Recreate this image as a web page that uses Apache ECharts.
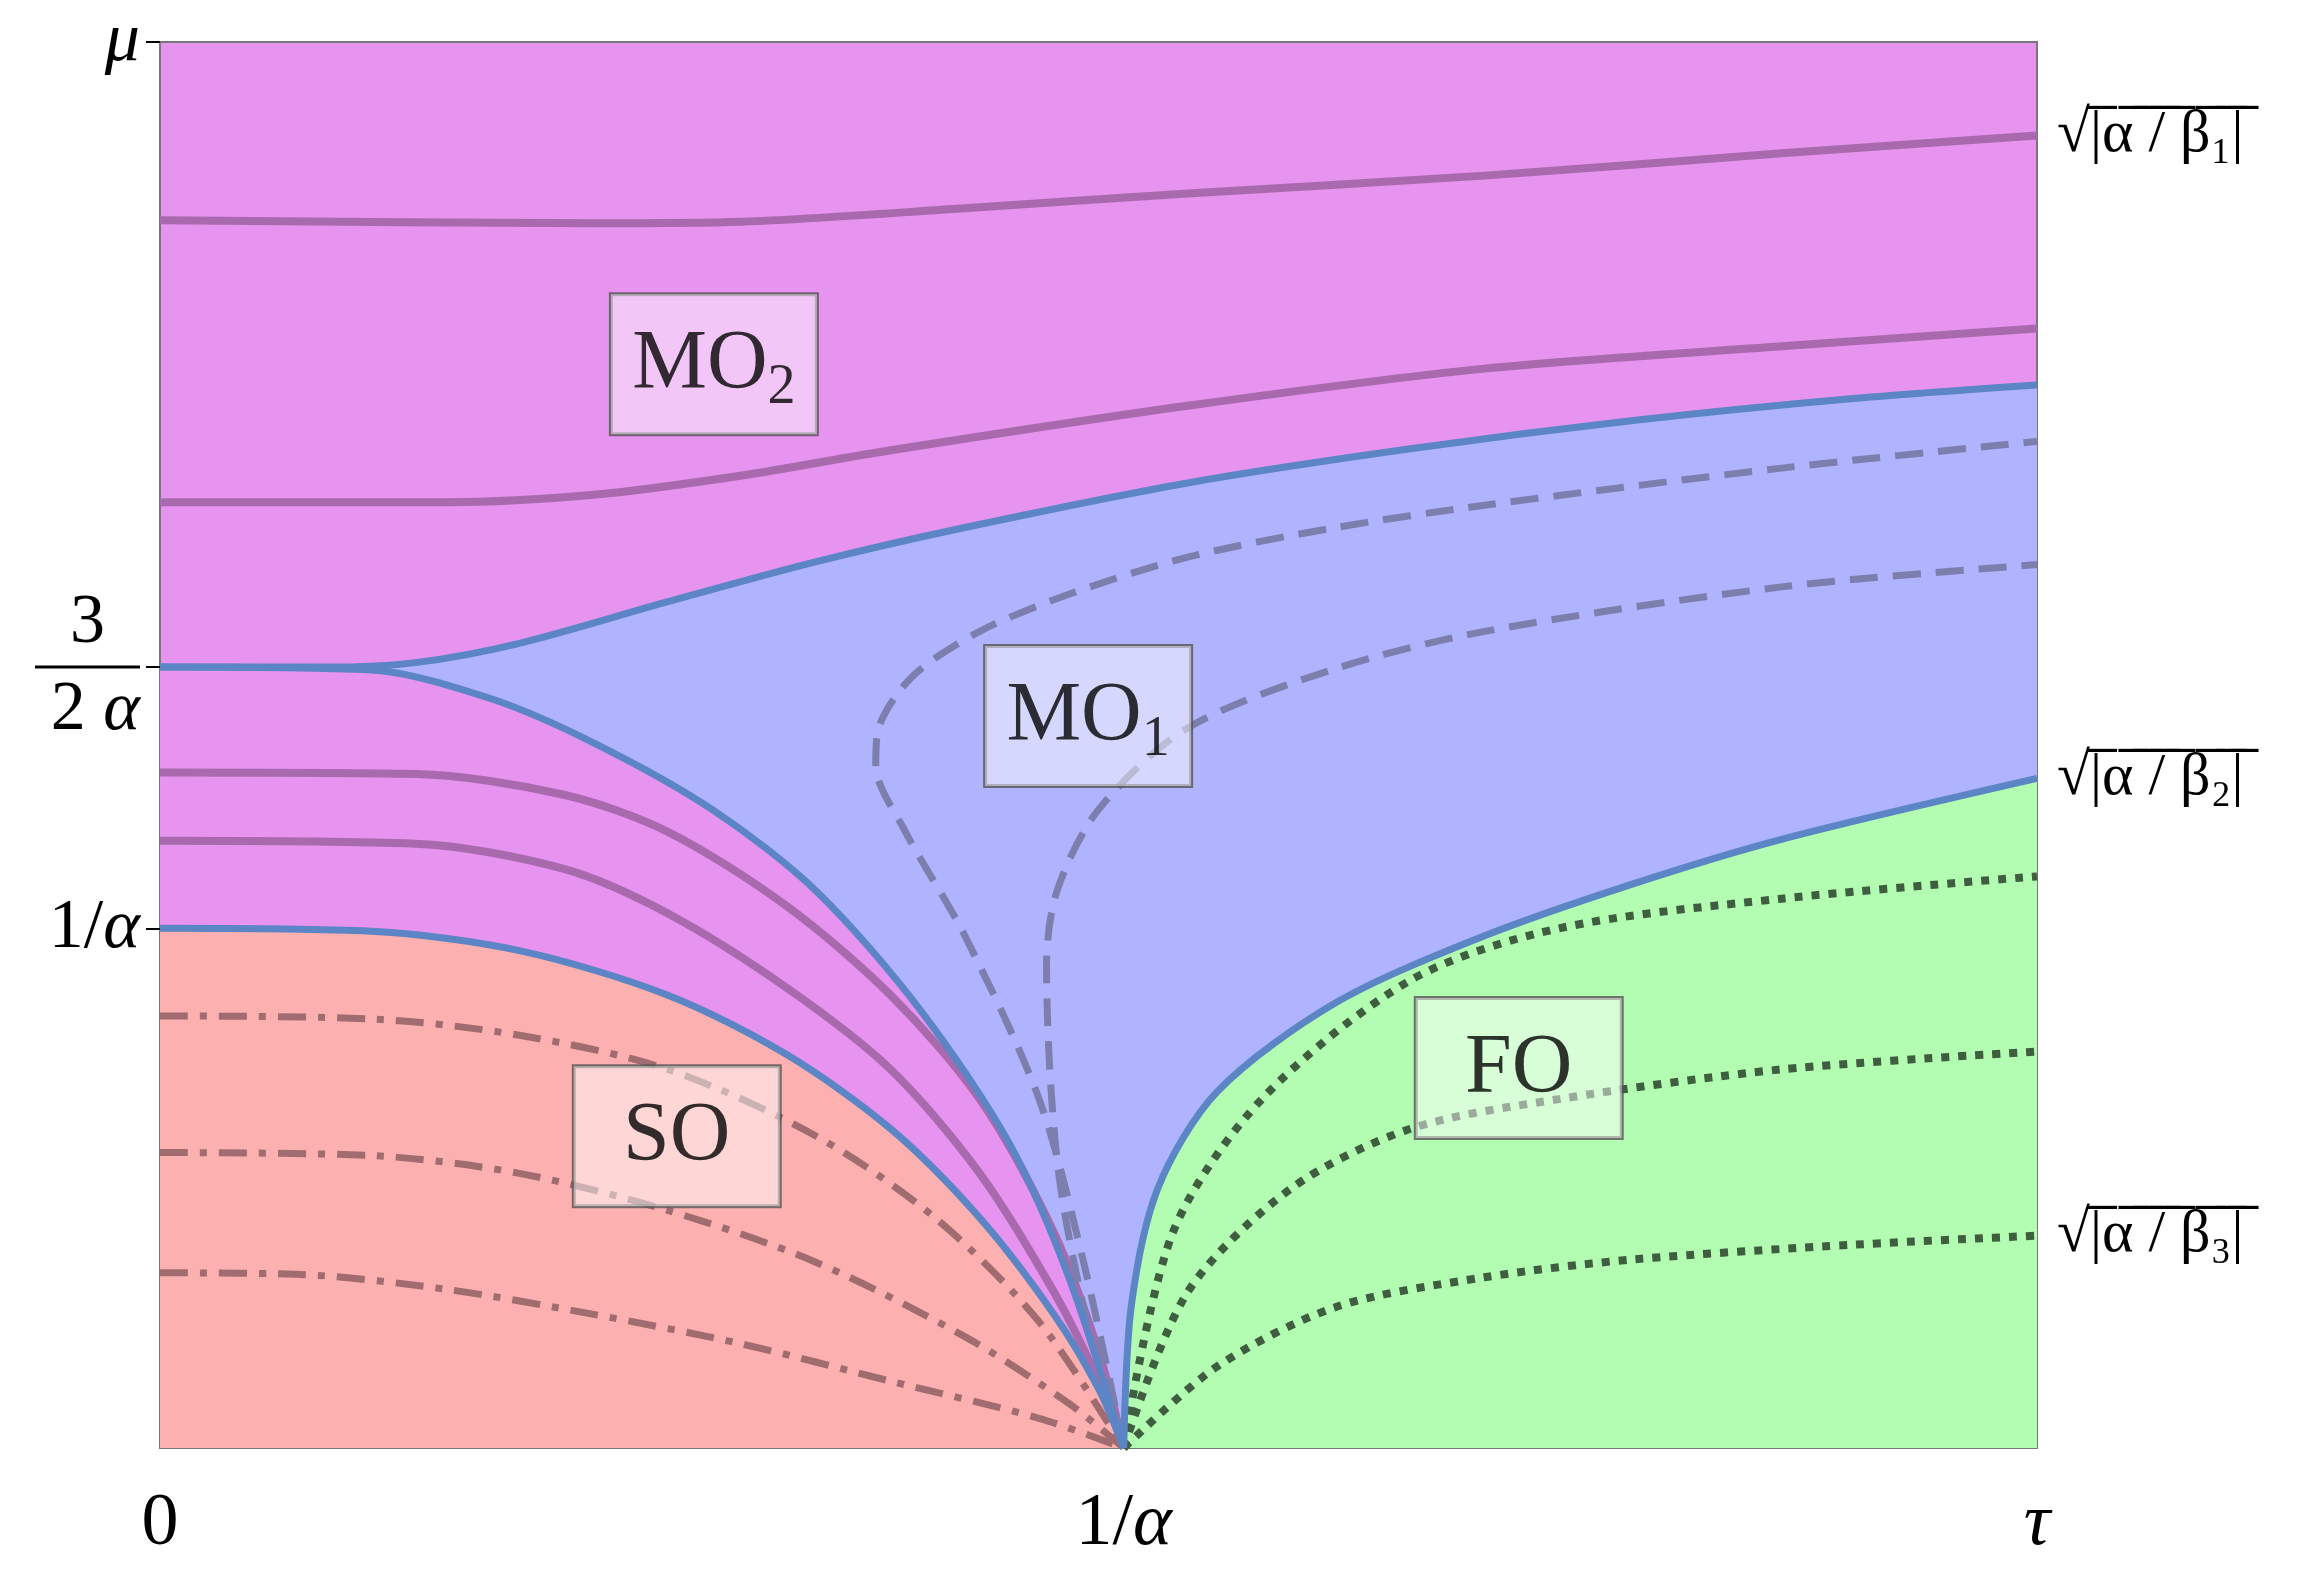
<!DOCTYPE html>
<html>
<head>
<meta charset="utf-8">
<script src="https://cdn.jsdelivr.net/npm/echarts@6/dist/echarts.min.js"></script>
<style>html,body{margin:0;background:#fff}#c{width:2316px;height:1570px}</style>
</head>
<body>
<div id="c"></div>
<script>
// axis units: x from 0 (108) to tau (1372), 1/alpha at 757; y runs downward from mu (28) to 0 (975)
const xTicks = [108, 757, 1372];
const xLabels = ['0', '1/{i|α}', '{i|τ}'];
const yLeftTicks = [28, 449, 625];
const yRightTicks = [91, 524, 832];

// phase boundaries
const upperMO1 = [[108,449],[220,449],[280,446],[350,433],[450,405],[550,378],[650,355],[800,325],[950,302],[1100,283],[1250,268],[1372,259]];
const lowerMO1 = [[108,449],[250,451],[330,470],[400,500],[480,545],[550,600],[620,680],[680,770],[720,860],[757,975]];
const soLine = [[108,625],[250,627],[350,640],[450,670],[530,710],[600,760],[660,820],[710,885],[740,935],[757,975]];
const foLine = [[757,975],[762,880],[780,800],[820,735],[900,675],[1000,630],[1100,595],[1200,565],[1372,524]];

// purple solid curves
const purpleA = [[108,148],[400,150],[500,149],[650,140],[800,130],[1000,118],[1200,103],[1372,91]];
const purpleB = [[108,338],[300,338],[400,333],[500,320],[600,303],[800,273],[1000,248],[1200,233],[1372,221]];
const purpleC = [[108,520],[280,521],[380,535],[450,560],[530,610],[600,670],[660,740],[710,830],[740,910],[757,975]];
const purpleD = [[108,566],[280,568],[380,585],[450,615],[530,665],[600,720],[660,790],[710,870],[740,930],[757,975]];

// dashed curves in MO1
const dashA = [[757,975],[730,850],[700,740],[650,630],[610,560],[590,515],[592,490],[615,455],[660,425],[720,400],[800,375],[900,355],[1000,340],[1200,315],[1372,297]];
const dashB = [[757,975],[730,880],[712,780],[705,650],[712,600],[740,545],[800,490],[900,450],[1000,425],[1200,395],[1372,380]];

// dash-dot curves in SO
const dotDashA = [[108,684],[250,686],[350,697],[450,720],[550,765],[630,820],[700,890],[757,975]];
const dotDashB = [[108,776],[250,778],[350,790],[450,815],[550,850],[650,900],[720,945],[757,975]];
const dotDashC = [[108,857],[200,858],[300,868],[400,885],[500,905],[600,930],[700,955],[757,975]];

// dotted curves in FO
const dotA = [[757,975],[790,830],[850,740],[950,660],[1050,625],[1200,605],[1372,590]];
const dotB = [[757,975],[800,870],[870,800],[950,760],[1050,740],[1200,720],[1372,708]];
const dotC = [[757,975],[820,920],[900,880],[1000,860],[1100,848],[1250,838],[1372,832]];

const regionLabels = [
  {name: 'MO2', value: [481,245], text: 'MO{s|2}'},
  {name: 'MO1', value: [733,482], text: 'MO{s|1}'},
  {name: 'SO', value: [456,765], text: 'SO'},
  {name: 'FO', value: [1023,719], text: 'FO'}
];

const serif = 'Liberation Serif';
const fill = (data, color, z) => ({type: 'line', data, symbol: 'none', smooth: 0.3, z,
  lineStyle: {width: 0}, areaStyle: {color, opacity: 1, origin: 'end'}, silent: true});
const curve = (data, color, width, type, z) => ({type: 'line', data, symbol: 'none', smooth: 0.3, z,
  lineStyle: {color, width, type, cap: 'butt'}, silent: true});

const chart = echarts.init(document.getElementById('c'));
chart.setOption({
  animation: false,
  grid: {left: 160, right: 279, top: 42, bottom: 122, show: true, backgroundColor: '#e694f0',
    borderColor: '#777', borderWidth: 2, z: 0},
  xAxis: {type: 'value', min: 108, max: 1372, splitLine: {show: false},
    axisLine: {show: false}, axisTick: {show: false},
    axisLabel: {customValues: xTicks, margin: 40, fontFamily: serif, fontSize: 74, color: '#000',
      formatter: v => xLabels[xTicks.indexOf(v)],
      rich: {i: {fontFamily: serif, fontSize: 74, fontStyle: 'italic', color: '#000'}}}},
  yAxis: [
    {type: 'value', min: 28, max: 975, inverse: true, splitLine: {show: false},
      axisLine: {show: false},
      axisTick: {show: true, customValues: yLeftTicks, inside: false, length: 14, lineStyle: {color: '#000', width: 2}},
      axisLabel: {customValues: yLeftTicks, margin: 20, fontFamily: serif, fontSize: 70, color: '#000',
        formatter: v => v === 28 ? '{i|μ}' : v === 449 ? '{n|3}\n{b| }\n{d|2 }{i|α}' : '1/{i|α}',
        rich: {i: {fontFamily: serif, fontSize: 70, fontStyle: 'italic', color: '#000'},
          n: {fontFamily: serif, fontSize: 70, align: 'center', width: 105, lineHeight: 84, color: '#000'},
          b: {fontSize: 1, height: 3, lineHeight: 3, width: 105, backgroundColor: '#000'},
          d: {fontFamily: serif, fontSize: 70, lineHeight: 84, color: '#000'}}}},
    {type: 'value', min: 28, max: 975, inverse: true, position: 'right', splitLine: {show: false},
      axisLine: {show: false},
      axisTick: {show: true, customValues: yRightTicks, inside: true, length: 14, lineStyle: {color: '#000', width: 2}},
      axisLabel: {customValues: yRightTicks, margin: 20, fontFamily: serif, fontSize: 60, color: '#000',
        formatter: v => '√|̅α̅ ̅/̅ ̅β̅' + ({91: '₁', 524: '₂', 832: '₃'})[v] + '̅|̅'}}
  ],
  series: [
    fill(upperMO1, '#b0b3fd', 1),
    fill(lowerMO1, '#e694f0', 2),
    fill(soLine, '#fdb0b0', 3),
    fill(foLine, '#b3fdb3', 4),
    curve(purpleA, '#a86aac', 8, 'solid', 10),
    curve(purpleB, '#a86aac', 8, 'solid', 10),
    curve(purpleC, '#a86aac', 8, 'solid', 10),
    curve(purpleD, '#a86aac', 8, 'solid', 10),
    curve(dashA, '#7c7fae', 7, [28, 15], 10),
    curve(dashB, '#7c7fae', 7, [28, 15], 10),
    curve(dotDashA, '#a06c70', 7, [28, 12, 7, 12], 10),
    curve(dotDashB, '#a06c70', 7, [28, 12, 7, 12], 10),
    curve(dotDashC, '#a06c70', 7, [28, 12, 7, 12], 10),
    curve(dotA, '#3f5e40', 8, [8, 9], 10),
    curve(dotB, '#3f5e40', 8, [8, 9], 10),
    curve(dotC, '#3f5e40', 8, [8, 9], 10),
    curve(upperMO1, '#5b85c4', 7, 'solid', 11),
    curve(lowerMO1, '#5b85c4', 7, 'solid', 11),
    curve(soLine, '#5b85c4', 7, 'solid', 11),
    curve(foLine, '#5b85c4', 7, 'solid', 11),
    {type: 'scatter', data: regionLabels, symbolSize: 0, z: 20, silent: true,
      label: {show: true, position: 'inside', formatter: p => p.data.text,
        fontFamily: serif, fontSize: 84, color: '#000', backgroundColor: 'rgba(255,255,255,0.6)',
        borderColor: '#555', borderWidth: 2, padding: [22, 18, 18, 18], width: 170, height: 100,
        align: 'center', verticalAlign: 'middle', lineHeight: 100,
        rich: {s: {fontFamily: serif, fontSize: 56, verticalAlign: 'bottom', lineHeight: 100, padding: [30, 0, 0, 0], color: '#000'}}}}
  ]
});
</script>
</body>
</html>
